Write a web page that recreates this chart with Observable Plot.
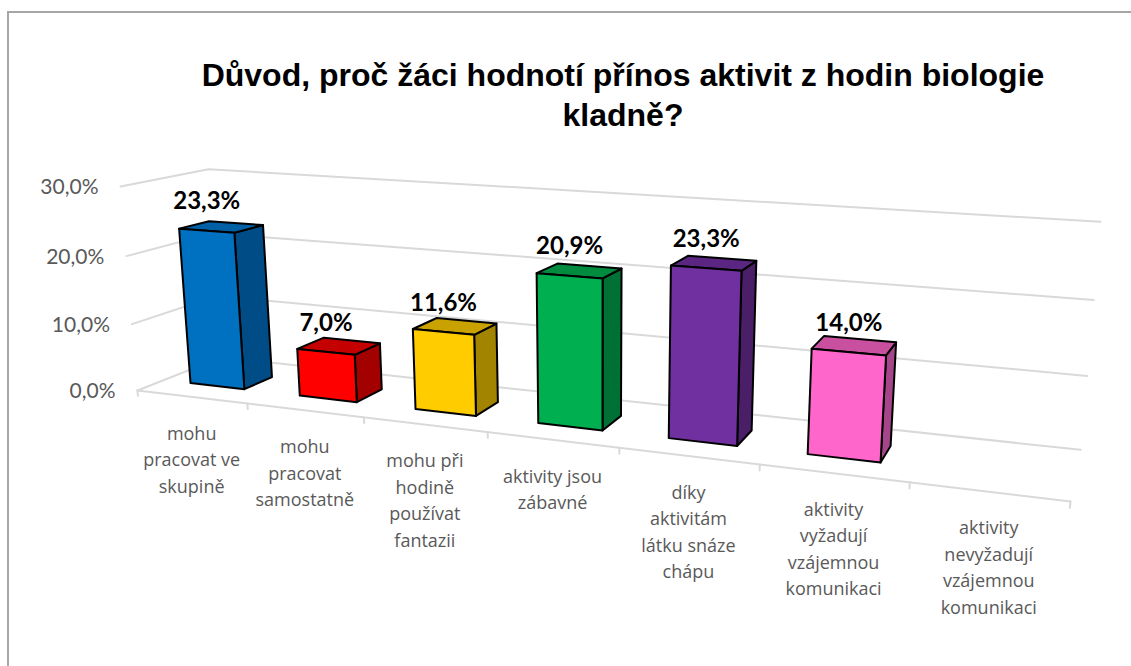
<!DOCTYPE html>
<html>
<head>
<meta charset="utf-8">
<script src="https://cdn.jsdelivr.net/npm/d3@7"></script>
<script src="https://cdn.jsdelivr.net/npm/@observablehq/plot@0.6"></script>
<style>
  html, body { margin: 0; padding: 0; background: #ffffff; }
  #wrap { position: relative; width: 1131px; height: 666px; overflow: hidden; background: #ffffff; }
  #frame { position: absolute; left: 7px; top: 11px; width: 1300px; height: 800px; border: 2px solid #a6a6a6; box-sizing: border-box; }
  #title { position: absolute; left: 123px; width: 1000px; top: 55px; text-align: center;
           font-family: "Liberation Sans", Arial, sans-serif; font-weight: bold; font-size: 32px;
           line-height: 40px; color: #000000; }
  #chart { position: absolute; left: 0; top: 0; }
</style>
</head>
<body>
<div id="wrap">
  <div id="frame"></div>
  <div id="chart"></div>
  <div id="title">Důvod, proč žáci hodnotí přínos aktivit z hodin biologie<br>kladně?</div>
</div>
<script>
// ---- data ----
const categories = [
  "mohu\npracovat ve\nskupině",
  "mohu\npracovat\nsamostatně",
  "mohu při\nhodině\npoužívat\nfantazii",
  "aktivity jsou\nzábavné",
  "díky\naktivitám\nlátku snáze\nchápu",
  "aktivity\nvyžadují\nvzájemnou\nkomunikaci",
  "aktivity\nnevyžadují\nvzájemnou\nkomunikaci"
];
const values = [23.3, 7.0, 11.6, 20.9, 23.3, 14.0, null];
const yTicks = [0, 10, 20, 30];

// ---- palette (front, top, side faces) ----
const frontColors = ["#0070C0", "#FF0000", "#FFCC00", "#00B050", "#7030A0", "#FF66CC", "#999999"];
const topColors   = ["#0060A6", "#C40000", "#C9A200", "#008B3F", "#5A2681", "#C9509F", "#777777"];
const sideColors  = ["#004C86", "#A30000", "#A38400", "#007135", "#4A1F68", "#A6458A", "#555555"];

// ---- 3D perspective camera (vanishing points + scale weights) ----
const camera = {
  origin: [137, 390],
  vx: [-3623, -57], kx: -0.0284,
  vy: [599, 5936],  ky: -0.001183,
  vz: [1172, -20],  kz: 0.088
};
function project3d(X, Y, Z) {
  const w = 1 + camera.kx * X + camera.ky * Y + camera.kz * Z;
  const px = camera.origin[0] + camera.kx * X * camera.vx[0] + camera.ky * Y * camera.vy[0] + camera.kz * Z * camera.vz[0];
  const py = camera.origin[1] + camera.kx * X * camera.vx[1] + camera.ky * Y * camera.vy[1] + camera.kz * Z * camera.vz[1];
  return [px / w, py / w];
}
const projection = d3.geoTransform({
  point(x, y, z) {
    const p = project3d(x, y, z == null ? 0 : z);
    this.stream.point(p[0], p[1]);
  }
});

// ---- geometry built from the data ----
const n = categories.length;
const barX0 = 0.25, barX1 = 0.75, barZ0 = 0.3, barZ1 = 0.65;

const gridlines = yTicks.map(v => ({type: "LineString", coordinates: [[0, v, 0], [0, v, 1], [n, v, 1]]}));
const floorEdge = [{type: "LineString", coordinates: [[0, 0, 0], [n, 0, 0]]}];
const tickLines = d3.range(n + 1).map(i => ({type: "LineString", coordinates: [[i, 0, 0], [i, -0.8, 0]]}));

const bars = values.map((v, i) => ({i, v})).filter(d => d.v != null);
const faces = [];
for (const {i, v} of bars) {
  const x0 = i + barX0, x1 = i + barX1;
  faces.push({fill: sideColors[i], geometry: {type: "Polygon", coordinates: [[[x1, 0, barZ0], [x1, 0, barZ1], [x1, v, barZ1], [x1, v, barZ0], [x1, 0, barZ0]]]}});
  faces.push({fill: topColors[i], geometry: {type: "Polygon", coordinates: [[[x0, v, barZ0], [x1, v, barZ0], [x1, v, barZ1], [x0, v, barZ1], [x0, v, barZ0]]]}});
  faces.push({fill: frontColors[i], geometry: {type: "Polygon", coordinates: [[[x0, 0, barZ0], [x1, 0, barZ0], [x1, v, barZ0], [x0, v, barZ0], [x0, 0, barZ0]]]}});
}

const cz = d3.formatLocale({decimal: ",", thousands: "\u00a0", grouping: [3], currency: ["", " Kč"]});
const pct = v => cz.format(".1f")(v) + "%";

const labelOptions = {
  text: d => pct(d.v),
  dy: -29,
  fontSize: 24,
  fontWeight: "bold",
  fontFamily: "Lato, 'Open Sans', sans-serif",
  fill: "#000000"
};
const valueLabels = (typeof Plot.centroid === "function")
  ? Plot.text(bars, Plot.centroid({
      geometry: d => ({type: "LineString", coordinates: [[d.i + barX0, d.v, barZ0], [d.i + barX1, d.v, barZ0]]}),
      ...labelOptions
    }))
  : Plot.text(bars, {x: d => d.i + 0.5, y: d => d.v, dx: 5, dy: -32, ...labelOptions});

const chart = Plot.plot({
  width: 1131,
  height: 666,
  margin: 0,
  projection,
  color: {type: "identity"},
  style: {background: "transparent", overflow: "visible", fontFamily: "'Open Sans', sans-serif"},
  marks: [
    Plot.geo(gridlines, {stroke: "#d9d9d9", strokeWidth: 2, fill: "none"}),
    Plot.geo(floorEdge, {stroke: "#d9d9d9", strokeWidth: 2, fill: "none"}),
    Plot.geo(tickLines, {stroke: "#d9d9d9", strokeWidth: 2, fill: "none"}),
    Plot.geo(faces, {geometry: d => d.geometry, fill: d => d.fill, stroke: "#000000", strokeWidth: 2, strokeLinejoin: "round"}),
    valueLabels,
    Plot.text(yTicks, {
      x: () => 0, y: d => d, text: d => pct(d),
      textAnchor: "end", dx: -22, dy: 1,
      fontSize: 21, fill: "#595959", fontFamily: "Lato, 'Open Sans', sans-serif"
    }),
    Plot.text(categories, {
      x: (d, i) => i + 0.5, y: () => 0, text: d => d,
      lineAnchor: "top", dy: 24, lineHeight: 1.47,
      fontSize: 18, fill: "#595959", fontFamily: "'Open Sans', sans-serif"
    })
  ]
});
document.getElementById("chart").appendChild(chart);
</script>
</body>
</html>
